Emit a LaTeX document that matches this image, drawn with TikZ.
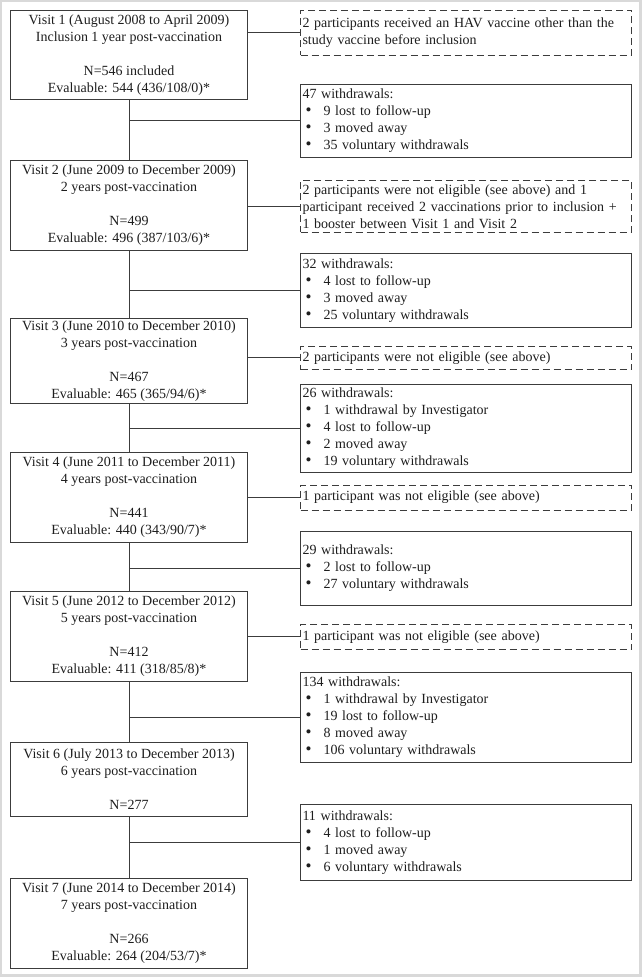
\documentclass[tikz,border=0pt]{standalone}
\usepackage{fontspec}
\setmainfont{Liberation Serif}
\usetikzlibrary{positioning}
\definecolor{ink}{HTML}{1E1E1E}
\definecolor{rule}{HTML}{3C3C3C}
\definecolor{frame}{HTML}{D9D9D9}
\newcommand{\itm}[1]{\hspace*{3pt}\makebox[18pt][l]{{\fontsize{17}{17}\selectfont\textbullet}}#1}

\begin{document}
\begin{tikzpicture}[
    x=1pt,y=-1pt,
    font=\fontsize{14}{17}\selectfont,
    visit/.style={draw=rule,line width=1pt,text=ink,align=center,
                  anchor=north west,minimum width=237pt,inner sep=2pt},
    note/.style={draw=rule,line width=1pt,dash pattern=on 7pt off 4pt,text=ink,
                 align=left,anchor=north west,text width=327pt,inner sep=2pt},
    drop/.style={draw=rule,line width=1pt,text=ink,align=left,
                 anchor=north west,text width=327pt,inner sep=2pt},
    link/.style={rule,line width=1pt}]
  % --- page frame
  \fill[frame] (0,0) rectangle (642,977);
  \fill[white] (1.5,1.5) rectangle (638.5,973.5);
  % --- visits (left column)
  \node[visit,minimum height=89pt] (v1) at (10,10)
    {Visit 1 (August 2008 to April 2009)\\Inclusion 1 year post-vaccination\\[17pt]N=546 included\\Evaluable: 544 (436/108/0)*};
  \node[visit,minimum height=90pt] (v2) at (10,160)
    {Visit 2 (June 2009 to December 2009)\\2 years post-vaccination\\[17pt]N=499\\Evaluable: 496 (387/103/6)*};
  \node[visit,minimum height=85pt] (v3) at (10,318)
    {Visit 3 (June 2010 to December 2010)\\3 years post-vaccination\\[17pt]N=467\\Evaluable: 465 (365/94/6)*};
  \node[visit,minimum height=90pt] (v4) at (10,451.5)
    {Visit 4 (June 2011 to December 2011)\\4 years post-vaccination\\[17pt]N=441\\Evaluable: 440 (343/90/7)*};
  \node[visit,minimum height=90pt] (v5) at (10,591)
    {Visit 5 (June 2012 to December 2012)\\5 years post-vaccination\\[17pt]N=412\\Evaluable: 411 (318/85/8)*};
  \node[visit,minimum height=74pt] (v6) at (10,742)
    {Visit 6 (July 2013 to December 2013)\\6 years post-vaccination\\[17pt]N=277};
  \node[visit,minimum height=90pt] (v7) at (10,877.5)
    {Visit 7 (June 2014 to December 2014)\\7 years post-vaccination\\[17pt]N=266\\Evaluable: 264 (204/53/7)*};
  % --- exclusions (dashed) and withdrawals (right column)
  \node[note,minimum height=45pt] (d1) at (300,9.5)
    {2 participants received an HAV vaccine other than the\\study vaccine before inclusion};
  \node[drop,minimum height=72.5pt] (w47) at (300,84)
    {47 withdrawals:\\\itm{9 lost to follow-up}\\\itm{3 moved away}\\\itm{35 voluntary withdrawals}};
  \node[note,minimum height=51.5pt] (d2) at (300,180)
    {2 participants were not eligible (see above) and 1\\participant received 2 vaccinations prior to inclusion +\\1 booster between Visit 1 and Visit 2};
  \node[drop,minimum height=74pt] (w32) at (300,253)
    {32 withdrawals:\\\itm{4 lost to follow-up}\\\itm{3 moved away}\\\itm{25 voluntary withdrawals}};
  \node[note,minimum height=23.5pt] (d3) at (300,345.5)
    {2 participants were not eligible (see above)};
  \node[drop,minimum height=88pt] (w26) at (300,384)
    {26 withdrawals:\\\itm{1 withdrawal by Investigator}\\\itm{4 lost to follow-up}\\\itm{2 moved away}\\\itm{19 voluntary withdrawals}};
  \node[note,minimum height=25pt] (d4) at (300,484.5)
    {1 participant was not eligible (see above)};
  \node[drop,minimum height=74pt] (w29) at (300,531)
    {29 withdrawals:\\\itm{2 lost to follow-up}\\\itm{27 voluntary withdrawals}};
  \node[note,minimum height=25.5pt] (d5) at (300,623.5)
    {1 participant was not eligible (see above)};
  \node[drop,minimum height=89.5pt] (w134) at (300,672)
    {134 withdrawals:\\\itm{1 withdrawal by Investigator}\\\itm{19 lost to follow-up}\\\itm{8 moved away}\\\itm{106 voluntary withdrawals}};
  \node[drop,minimum height=75.5pt] (w11) at (300,804)
    {11 withdrawals:\\\itm{4 lost to follow-up}\\\itm{1 moved away}\\\itm{6 voluntary withdrawals}};
  % --- trunk, branches to withdrawals
  \draw[link] (v1) -- (v2);
  \draw[link] (v1.south |- w47.west) -- (w47.west);
  \draw[link] (v2) -- (v3);
  \draw[link] (v2.south |- w32.west) -- (w32.west);
  \draw[link] (v3) -- (v4);
  \draw[link] (v3.south |- w26.west) -- (w26.west);
  \draw[link] (v4) -- (v5);
  \draw[link] (v4.south |- w29.west) -- (w29.west);
  \draw[link] (v5) -- (v6);
  \draw[link] (v5.south |- w134.west) -- (w134.west);
  \draw[link] (v6) -- (v7);
  \draw[link] (v6.south |- w11.west) -- (w11.west);
  % --- side links to exclusions
  \draw[link] (v1.east |- d1.west) -- (d1.west);
  \draw[link] (v2.east |- d2.west) -- (d2.west);
  \draw[link] (v3.east |- d3.west) -- (d3.west);
  \draw[link] (v4.east |- d4.west) -- (d4.west);
  \draw[link] (v5.east |- d5.west) -- (d5.west);
\end{tikzpicture}
\end{document}
